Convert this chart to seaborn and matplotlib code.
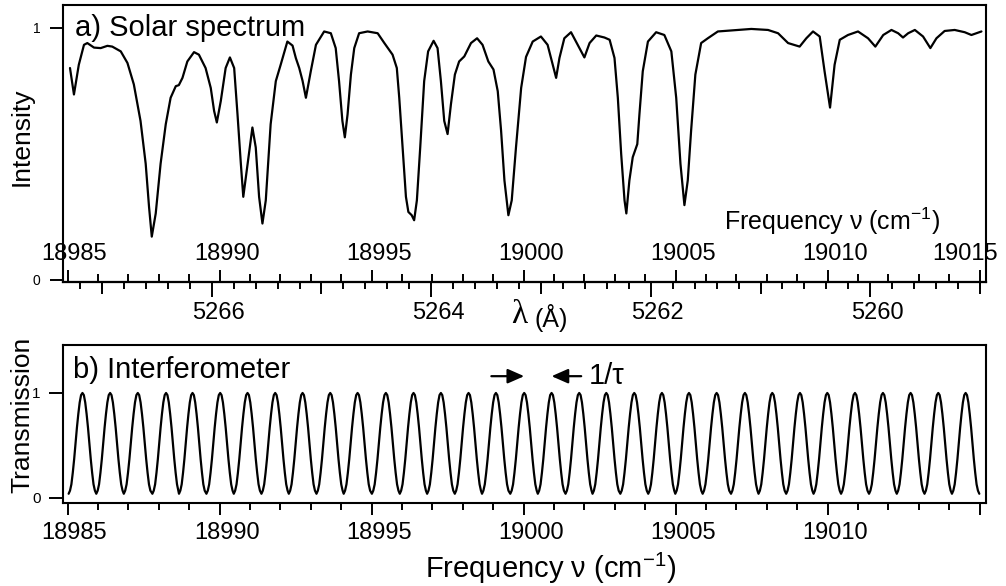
from matplotlib import pyplot as plt
from matplotlib.ticker import MultipleLocator, FixedLocator, NullFormatter
from matplotlib.transforms import ScaledTranslation
import seaborn as sns
import numpy as np


sns.set_style("ticks")
plt.rcParams['font.family'] = ['Liberation Sans', 'DejaVu Sans']
plt.rcParams['mathtext.fontset'] = 'custom'
plt.rcParams['mathtext.rm'] = 'Liberation Sans'
plt.rcParams['mathtext.it'] = 'Liberation Sans:italic'
plt.rcParams['axes.edgecolor'] = 'black'
plt.rcParams['axes.linewidth'] = 1.5
plt.rcParams['xtick.color'] = 'black'
plt.rcParams['ytick.color'] = 'black'
plt.rcParams['text.color'] = 'black'
plt.rcParams['axes.labelcolor'] = 'black'

# a) solar spectrum (frequency in cm-1, normalised intensity)
solar_nu = [
    18985.08, 18985.21, 18985.37, 18985.54, 18985.65, 18985.87, 18986.09, 18986.31,
    18986.47, 18986.75, 18986.97, 18987.18, 18987.40, 18987.57, 18987.68, 18987.77,
    18987.90, 18988.06, 18988.23, 18988.39, 18988.56, 18988.66, 18988.78, 18988.94,
    18989.16, 18989.32, 18989.54, 18989.71, 18989.82, 18989.91, 18990.04, 18990.20,
    18990.34, 18990.48, 18990.59, 18990.70, 18990.78, 18990.91, 18991.08, 18991.19,
    18991.30, 18991.41, 18991.52, 18991.68, 18991.85, 18992.01, 18992.23, 18992.40,
    18992.51, 18992.62, 18992.73, 18992.84, 18993.00, 18993.17, 18993.44, 18993.66,
    18993.82, 18993.93, 18994.04, 18994.12, 18994.21, 18994.32, 18994.43, 18994.59,
    18994.87, 18995.20, 18995.42, 18995.69, 18995.83, 18995.91, 18996.02, 18996.13,
    18996.21, 18996.32, 18996.40, 18996.49, 18996.60, 18996.73, 18996.86, 18997.04,
    18997.17, 18997.28, 18997.39, 18997.50, 18997.61, 18997.74, 18997.88, 18998.05,
    18998.27, 18998.47, 18998.65, 18998.84, 18999.01, 18999.15, 18999.26, 18999.37,
    18999.50, 18999.61, 18999.75, 18999.92, 19000.08, 19000.30, 19000.57, 19000.79,
    19000.96, 19001.07, 19001.18, 19001.34, 19001.56, 19001.78, 19002.00, 19002.17,
    19002.39, 19002.66, 19002.83, 19002.99, 19003.10, 19003.21, 19003.32, 19003.38,
    19003.48, 19003.59, 19003.74, 19003.81, 19003.92, 19004.09, 19004.36, 19004.63,
    19004.86, 19005.02, 19005.16, 19005.29, 19005.40, 19005.51, 19005.65, 19005.84,
    19006.06, 19006.39, 19007.05, 19007.49, 19008.04, 19008.37, 19008.70, 19009.08,
    19009.30, 19009.52, 19009.74, 19009.90, 19010.08, 19010.23, 19010.40, 19010.67,
    19011.00, 19011.33, 19011.57, 19011.83, 19012.10, 19012.32, 19012.48, 19012.65,
    19012.87, 19013.14, 19013.38, 19013.58, 19013.85, 19014.18, 19014.51, 19014.73,
    19014.90, 19015.06,
]
solar_intensity = [
    0.841, 0.736, 0.854, 0.933, 0.940, 0.922, 0.920, 0.929,
    0.926, 0.907, 0.861, 0.776, 0.631, 0.461, 0.290, 0.172,
    0.264, 0.461, 0.618, 0.723, 0.769, 0.773, 0.802, 0.867,
    0.904, 0.894, 0.841, 0.762, 0.671, 0.625, 0.710, 0.841,
    0.883, 0.841, 0.657, 0.461, 0.330, 0.448, 0.605, 0.526,
    0.330, 0.224, 0.316, 0.618, 0.789, 0.854, 0.946, 0.930,
    0.880, 0.841, 0.790, 0.723, 0.828, 0.933, 0.986, 0.979,
    0.920, 0.789, 0.631, 0.566, 0.657, 0.815, 0.920, 0.979,
    0.986, 0.979, 0.940, 0.894, 0.841, 0.723, 0.526, 0.330,
    0.270, 0.257, 0.237, 0.316, 0.526, 0.789, 0.907, 0.949,
    0.920, 0.789, 0.631, 0.579, 0.697, 0.815, 0.867, 0.887,
    0.940, 0.959, 0.933, 0.867, 0.835, 0.749, 0.592, 0.395,
    0.257, 0.316, 0.526, 0.762, 0.885, 0.946, 0.966, 0.933,
    0.854, 0.802, 0.881, 0.959, 0.983, 0.933, 0.883, 0.940,
    0.970, 0.962, 0.953, 0.881, 0.723, 0.500, 0.316, 0.264,
    0.395, 0.487, 0.539, 0.657, 0.828, 0.946, 0.983, 0.972,
    0.907, 0.723, 0.461, 0.297, 0.395, 0.592, 0.815, 0.940,
    0.959, 0.986, 0.992, 0.996, 0.992, 0.979, 0.940, 0.926,
    0.959, 0.986, 0.966, 0.828, 0.684, 0.854, 0.953, 0.972,
    0.986, 0.959, 0.926, 0.972, 0.992, 0.979, 0.962, 0.979,
    0.992, 0.966, 0.920, 0.959, 0.988, 0.992, 0.983, 0.972,
    0.979, 0.986,
]

# b) interferometer: fringe maxima positions and the shape of one fringe
fringe_peaks = [
    18985.49, 18986.40, 18987.31, 18988.24, 18989.11, 18990.02, 18990.92, 18991.83,
    18992.73, 18993.64, 18994.54, 18995.47, 18996.38, 18997.28, 18998.19, 18999.09,
    19000.02, 19000.92, 19001.83, 19002.72, 19003.64, 19004.55, 19005.44, 19006.35,
    19007.28, 19008.18, 19009.09, 19009.99, 19010.90, 19011.82, 19012.73, 19013.64,
    19014.54,
]
fringe_phase = [-0.50, -0.45, -0.40, -0.35, -0.30, -0.25, -0.20, -0.15, -0.10, -0.05,
                0.00, 0.05, 0.10, 0.15, 0.20, 0.25, 0.30, 0.35, 0.40, 0.45]
fringe_level = [0.04, 0.07, 0.13, 0.24, 0.37, 0.52, 0.67, 0.80, 0.91, 0.98,
                1.00, 0.98, 0.91, 0.80, 0.67, 0.52, 0.37, 0.24, 0.13, 0.07]

nu_ticks = [18985, 18990, 18995, 19000, 19005, 19010, 19015]
nu_labels_b = ['18985', '18990', '18995', '19000', '19005', '19010', '']
lam_ticks = [5260, 5262, 5264, 5266]
lam_mid_ticks = [5259, 5261, 5263, 5265, 5267]

xlim = (18984.85, 19015.21)


def nu_to_lam(nu):
    "Wavenumber (cm-1) to wavelength (Angstrom)."
    nu = np.asarray(nu, dtype=float)
    with np.errstate(divide='ignore'):
        return 1e8 / nu


# Build the interferometer trace from the fringe positions
peaks = np.array(fringe_peaks)
fsr = np.gradient(peaks)
trace_nu = (peaks[:, None] + np.array(fringe_phase)[None, :] * fsr[:, None]).ravel()
trace_t = np.tile(fringe_level, len(peaks))
trace_nu = np.append(trace_nu, peaks[-1] + 0.5 * fsr[-1])
trace_t = np.append(trace_t, fringe_level[0])

fig = plt.figure(figsize=(10.06, 5.86), dpi=100)
ax1 = fig.add_axes([63 / 1006, 1 - 282 / 586, 923 / 1006, 277 / 586])
ax2 = fig.add_axes([63 / 1006, 1 - 503 / 586, 923 / 1006, 158 / 586])

shift = ScaledTranslation(0.07, 0, fig.dpi_scale_trans)

# ---- a) Solar spectrum
sns.lineplot(x=solar_nu, y=solar_intensity, ax=ax1, color='black', linewidth=1.6,
             estimator=None, sort=False)
ax1.set_xlim(*xlim)
ax1.set_ylim(-0.008, 1.091)
ax1.set_yticks([0, 1])
ax1.set_yticklabels(['0', '1'])
ax1.tick_params(axis='y', direction='out', length=9.4, width=1.4, pad=7, labelsize=10)
ax1.xaxis.set_major_locator(FixedLocator(nu_ticks))
ax1.xaxis.set_minor_locator(MultipleLocator(1))
ax1.tick_params(axis='x', which='major', direction='in', length=9, width=1.4,
                labelsize=17, pad=-28)
ax1.tick_params(axis='x', which='minor', direction='in', length=5.5, width=1.4)
ax1.set_ylabel('Intensity', fontsize=19, va='center')
ax1.yaxis.set_label_coords(22 / 1006, 1 - 137 / 586, transform=fig.transFigure)
ax1.text(0.013, 0.966, 'a) Solar spectrum', transform=ax1.transAxes, fontsize=21,
         va='top', ha='left')
ax1.text(0.950, 0.188, 'Frequency ν (cm$^{-1}$)', transform=ax1.transAxes,
         fontsize=18, ha='right', va='baseline')

# wavelength scale below the spectrum
lam_ax = ax1.secondary_xaxis('bottom', functions=(nu_to_lam, nu_to_lam))
lam_ax.xaxis.set_major_locator(FixedLocator(lam_ticks))
lam_ax.xaxis.set_minor_locator(MultipleLocator(0.2))
lam_ax.tick_params(which='major', direction='out', length=10.8, width=1.4,
                   pad=3.6, labelsize=17)
lam_ax.tick_params(which='minor', direction='out', length=4.8, width=1.4)
lam_mid = ax1.secondary_xaxis('bottom', functions=(nu_to_lam, nu_to_lam))
lam_mid.xaxis.set_major_locator(FixedLocator(lam_mid_ticks))
lam_mid.xaxis.set_major_formatter(NullFormatter())
lam_mid.tick_params(which='major', direction='out', length=8.4, width=1.4)
fig.text(527 / 1006, 1 - 315 / 586, 'λ', fontsize=24, ha='right', va='center',
         family=['Liberation Serif', 'DejaVu Serif'])
fig.text(534 / 1006, 1 - 318 / 586, '(Å)', fontsize=18, ha='left', va='center')

# ---- b) Interferometer
sns.lineplot(x=trace_nu, y=trace_t, ax=ax2, color='black', linewidth=1.6,
             estimator=None, sort=False)
ax2.set_xlim(*xlim)
ax2.set_ylim(-0.048, 1.457)
ax2.set_yticks([0, 1])
ax2.set_yticklabels(['0', '1'])
ax2.tick_params(axis='y', direction='out', length=10, width=1.4, pad=6, labelsize=11)
ax2.set_xticks(nu_ticks)
ax2.set_xticklabels(nu_labels_b)
ax2.xaxis.set_minor_locator(MultipleLocator(1))
ax2.tick_params(axis='x', which='major', direction='out', length=8.8, width=1.4,
                labelsize=17, pad=5)
ax2.tick_params(axis='x', which='minor', direction='out', length=5, width=1.4)
ax2.set_ylabel('Transmission', fontsize=19, va='center')
ax2.yaxis.set_label_coords(22 / 1006, 1 - 415 / 586, transform=fig.transFigure)
ax2.set_xlabel('Frequency ν (cm$^{-1}$)', fontsize=21, va='baseline')
ax2.xaxis.set_label_coords(551 / 1006, 1 - 578 / 586, transform=fig.transFigure)
ax2.text(0.011, 0.93, 'b) Interferometer', transform=ax2.transAxes, fontsize=21,
         va='top', ha='left')

# free spectral range 1/tau between two neighbouring fringes
arrow_y = 1.16
arrow_kw = dict(arrowstyle='-|>,head_length=0.5,head_width=0.22', color='black',
                lw=1.6, mutation_scale=20, shrinkA=0, shrinkB=0)
ax2.annotate('', xy=(fringe_peaks[16], arrow_y), xytext=(fringe_peaks[16] - 1.08, arrow_y),
             arrowprops=arrow_kw)
ax2.annotate('1/τ', xy=(fringe_peaks[17], arrow_y), xytext=(fringe_peaks[17] + 1.22, arrow_y),
             fontsize=21, ha='left', va='center',
             arrowprops=dict(arrow_kw, shrinkA=3))

# frequency labels sit a little right of their ticks in the original
fig.canvas.draw()
for ax in (ax1, ax2, lam_ax):
    for lbl in ax.get_xticklabels():
        lbl.set_transform(lbl.get_transform() + shift)
last = ax1.get_xticklabels()[-1]
last.set_transform(last.get_transform() + ScaledTranslation(-0.22, 0, fig.dpi_scale_trans))

fig.savefig('out.png', dpi=100)
